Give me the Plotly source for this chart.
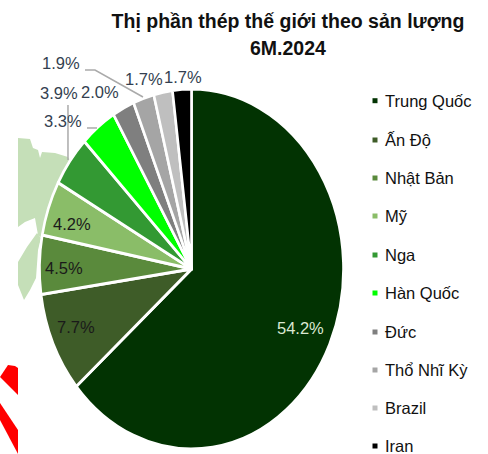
import plotly.graph_objects as go

W, H = 488, 454
FONT = "Liberation Sans, Arial, sans-serif"

countries = ["Trung Quốc", "Ấn Độ", "Nhật Bản", "Mỹ", "Nga", "Hàn Quốc", "Đức", "Thổ Nhĩ Kỳ", "Brazil", "Iran"]
shares = [54.2, 7.7, 4.5, 4.2, 3.9, 3.3, 2.0, 1.9, 1.7, 1.7]
colors = ["#023302", "#3e5c28", "#5a8a3c", "#8abd68", "#339933", "#00ff00", "#7f7f7f", "#a5a5a5", "#bfbfbf", "#000000"]

label_xy = [(300, 328), (76, 327), (64, 268), (72, 224), (59, 93), (63, 121), (100, 92), (61, 63), (144, 79), (183, 77)]
label_colors = ["#dbe8d2", "#1a1a1a", "#1a1a1a", "#1a1a1a", "#333f50", "#333f50", "#333f50", "#333f50", "#333f50", "#333f50"]
legend_y = [100.7, 140, 178, 216, 255, 293, 332, 370, 408, 446]

# The reference pie is stretched vertically into an ellipse
CX, CY, RX, RY = 191.5, 269, 152, 180

map_paths = [
    [(18, 138), (30, 139), (33, 148), (38, 150), (40, 158), (42, 152), (55, 153), (68, 157), (90, 190), (70, 235),
     (45, 240), (38, 235), (35, 218), (25, 222), (18, 227)],
    [(18, 262), (27, 247), (37, 233), (41, 238), (38, 250), (36, 278), (30, 290), (24, 300), (18, 285)],
]
red_paths = [
    [(0, 377), (8, 365), (15, 366), (18, 368), (18, 395)],
    [(0, 403), (18, 430), (18, 454), (0, 420)],
]
leader_paths = [
    [(85, 70), (95, 70), (143, 97)],
    [(68, 105), (68, 160)],
    [(87, 128), (97, 128)],
]


def px(x):
    return x / W


def py(y):
    return 1 - y / H


def svg(points, close=True):
    d = "M" + " L".join(f"{px(x):.4f},{py(y):.4f}" for x, y in points)
    return d + (" Z" if close else "")


shapes = []
for p in map_paths:
    shapes.append(dict(type="path", xref="paper", yref="paper", path=svg(p), fillcolor="#c5dfb8", line_width=0, layer="below"))
for p in red_paths:
    shapes.append(dict(type="path", xref="paper", yref="paper", path=svg(p), fillcolor="#ff0000", line_width=0, layer="below"))
for p in leader_paths:
    shapes.append(dict(type="path", xref="paper", yref="paper", path=svg(p, False), line=dict(color="#aaaaaa", width=1.5), layer="above"))
for c, y in zip(colors, legend_y):
    shapes.append(dict(type="rect", xref="paper", yref="paper", x0=px(372.5), x1=px(377.5), y0=py(y + 2.5), y1=py(y - 2.5),
                       fillcolor=c, line_width=0))

annotations = []
for v, (x, y), c in zip(shares, label_xy, label_colors):
    annotations.append(dict(text=f"{v:.1f}%", x=px(x), y=py(y), xref="paper", yref="paper", showarrow=False,
                            font=dict(family=FONT, size=16.5, color=c), xanchor="center", yanchor="middle"))
for name, y in zip(countries, legend_y):
    annotations.append(dict(text=name, x=px(383), y=py(y), xref="paper", yref="paper", showarrow=False,
                            font=dict(family=FONT, size=16.5, color="#111111"), xanchor="left", yanchor="middle"))
annotations.append(dict(text="<b>6M.2024</b>", x=px(288), y=py(48), xref="paper", yref="paper", showarrow=False,
                        font=dict(family=FONT, size=19.5, color="#111111"), xanchor="center", yanchor="middle"))

fig = go.Figure(go.Pie(
    labels=countries,
    values=shares,
    sort=False,
    direction="clockwise",
    rotation=0,
    textinfo="none",
    hoverinfo="label+percent",
    showlegend=False,
    marker=dict(colors=colors, line=dict(color="#ffffff", width=2.6)),
    domain=dict(x=[px(CX - RX), px(CX + RX)], y=[py(CY + RX), py(CY - RX)]),
))
fig.update_layout(
    width=W, height=H,
    margin=dict(l=0, r=0, t=0, b=0),
    paper_bgcolor="#ffffff",
    title=dict(text="<b>Thị phần thép thế giới theo sản lượng</b>", x=px(288), xanchor="center",
               y=py(21), yanchor="middle", font=dict(family=FONT, size=19.5, color="#111111")),
    shapes=shapes,
    annotations=annotations,
)
s = RY / RX
post = (
    "document.body.style.margin='0';document.body.style.overflow='hidden';"
    f"document.querySelectorAll('.pielayer').forEach(function(g){{"
    f"g.setAttribute('transform','translate(0,{CY * (1 - s):.3f}) scale(1,{s:.5f})');}});"
)
fig.write_html("out.html", post_script=post, config=dict(displayModeBar=False))
